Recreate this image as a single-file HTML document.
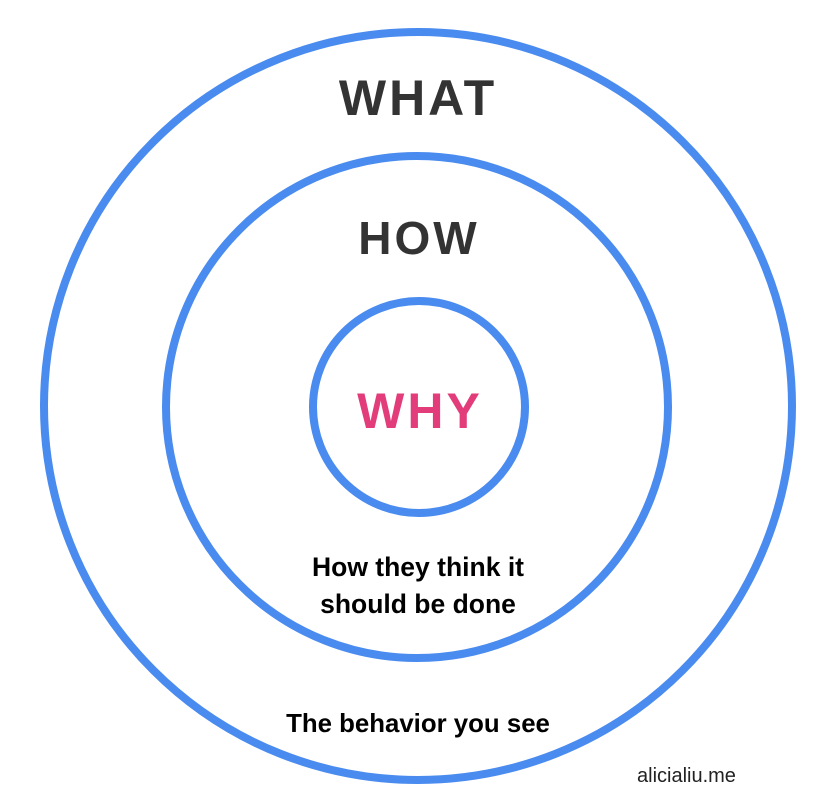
<!DOCTYPE html>
<html><head><style>
html,body{margin:0;padding:0;background:#fff;}
svg{display:block;}
</style></head><body>
<svg width="836" height="812" viewBox="0 0 836 812" xmlns="http://www.w3.org/2000/svg">
<g fill="none" stroke="#4a8bef" stroke-width="8">
<circle cx="418" cy="406" r="374"/>
<circle cx="417" cy="407" r="251"/>
<circle cx="419" cy="407" r="106"/>
</g>
<g font-family="Liberation Sans, sans-serif" text-anchor="middle" font-weight="bold">
<text x="418" y="115" font-size="50" fill="#333" letter-spacing="3">WHAT</text>
<text x="419" y="254" font-size="46" fill="#333" letter-spacing="3">HOW</text>
<text x="420" y="428" font-size="50" fill="#e23d7a" letter-spacing="3">WHY</text>
</g>
<g font-family="Liberation Sans, sans-serif" text-anchor="middle" font-weight="bold" fill="#000">
<text x="418" y="576" font-size="26.5">How they think it</text>
<text x="418" y="613" font-size="26.5">should be done</text>
<text x="418" y="732" font-size="25.8">The behavior you see</text>
</g>
<text x="637" y="782" font-family="Liberation Sans, sans-serif" font-size="20" fill="#222">alicialiu.me</text>
</svg>
</body></html>
